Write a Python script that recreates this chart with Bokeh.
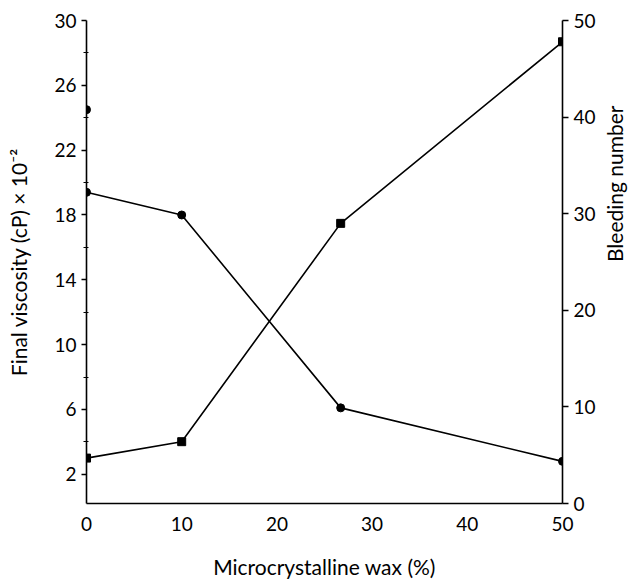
import math
from bokeh.plotting import figure
from bokeh.models import Range1d, LinearAxis, FixedTicker
from bokeh.embed import file_html
from bokeh.resources import INLINE

# Data
wax = [0, 10, 26.7, 50]                       # Microcrystalline wax (%)
viscosity = [19.4, 18.0, 6.1, 2.8]            # Final viscosity (cP) x 10^-2
viscosity_extra_x = [0]
viscosity_extra_y = [24.5]
bleeding = [4.7, 6.4, 29.0, 47.8]             # Bleeding number

x_ticks = [0, 10, 20, 30, 40, 50]
visc_ticks = [2, 6, 10, 14, 18, 22, 26, 30]
visc_minor = [4, 8, 12, 16, 20, 24, 28]
bleed_ticks = [0, 10, 20, 30, 40, 50]

FONT = "Lato"

p = figure(width=642, height=583, output_backend="svg", toolbar_location=None,
           x_range=Range1d(0, 50), y_range=Range1d(0.2, 30),
           min_border_left=86, min_border_right=78, min_border_top=20, min_border_bottom=80)
p.outline_line_color = None
p.grid.visible = False
p.background_fill_color = "white"
p.border_fill_color = "white"

p.extra_y_ranges = {"bleed": Range1d(0, 50)}

# x axis
xa = p.xaxis[0]
xa.ticker = FixedTicker(ticks=x_ticks)
xa.axis_label = "Microcrystalline wax (%)"
xa.major_tick_out = 0
xa.major_tick_in = 0
xa.minor_tick_out = 0
xa.minor_tick_in = 0
xa.major_label_standoff = 13
xa.axis_label_standoff = 20

# left axis
ya = p.yaxis[0]
ya.ticker = FixedTicker(ticks=visc_ticks, minor_ticks=visc_minor)
ya.axis_label = "Final viscosity (cP) × 10⁻²"
ya.major_tick_out = 5
ya.major_tick_in = 0
ya.minor_tick_out = 3
ya.minor_tick_in = 2
ya.major_label_standoff = 5
ya.axis_label_standoff = 20

# right axis (title reads bottom to top, as in the reference)
ra = LinearAxis(y_range_name="bleed", ticker=FixedTicker(ticks=bleed_ticks, minor_ticks=[]))
ra.axis_label = "Bleeding number"
ra.major_tick_out = 6
ra.major_tick_in = 0
ra.minor_tick_out = 0
ra.minor_tick_in = 0
ra.major_label_standoff = 5
ra.axis_label_standoff = 16
if "axis_label_orientation" in ra.properties():
    ra.axis_label_orientation = math.pi / 2
p.add_layout(ra, "right")

for ax in [xa, ya, ra]:
    ax.axis_line_color = "black"
    ax.axis_line_width = 1.6
    ax.major_tick_line_color = "black"
    ax.major_tick_line_width = 1.4
    ax.minor_tick_line_color = "black"
    ax.minor_tick_line_width = 1.2
    ax.major_label_text_font = FONT
    ax.major_label_text_font_size = "19px"
    ax.major_label_text_color = "black"
    ax.axis_label_text_font = FONT
    ax.axis_label_text_font_size = "21px"
    ax.axis_label_text_font_style = "normal"
    ax.axis_label_text_color = "black"

# Viscosity series (circles, left axis)
p.line(wax, viscosity, line_color="black", line_width=1.6)
p.scatter(wax, viscosity, marker="circle", size=8, fill_color="black", line_color="black")
p.scatter(viscosity_extra_x, viscosity_extra_y, marker="circle", size=8,
          fill_color="black", line_color="black")

# Bleeding series (squares, right axis)
p.line(wax, bleeding, line_color="black", line_width=1.6, y_range_name="bleed")
p.scatter(wax, bleeding, marker="square", size=8, fill_color="black", line_color="black",
          y_range_name="bleed")

open("out.html", "w").write(file_html(p, INLINE))
